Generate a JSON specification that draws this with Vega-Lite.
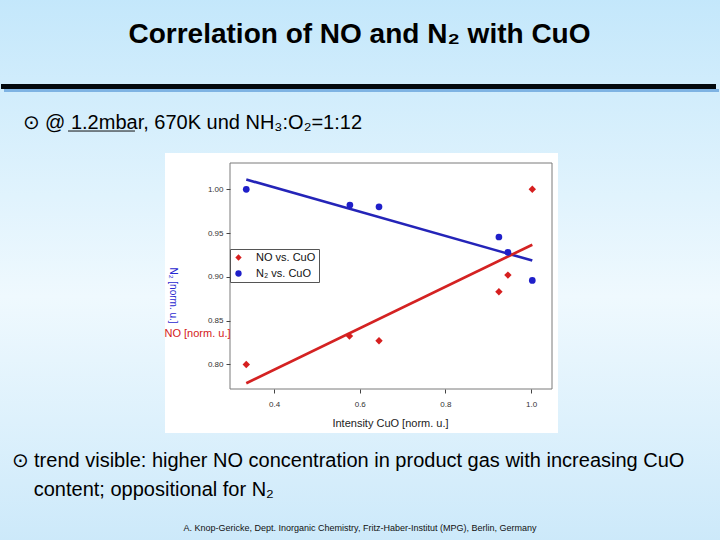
{
  "$schema": "https://vega.github.io/schema/vega-lite/v6.json",
  "width": 322,
  "height": 226,
  "autosize": {"type": "none"},
  "padding": {"left": 230, "top": 163, "right": 168, "bottom": 151},
  "background": "#d8effc",
  "config": {
    "font": "Liberation Sans",
    "view": {"stroke": null},
    "axis": {"zindex": 1, "grid": false}
  },
  "data": {
    "values": [
      {"series": "N₂ vs. CuO", "x": 0.335, "y": 1.000},
      {"series": "N₂ vs. CuO", "x": 0.577, "y": 0.982},
      {"series": "N₂ vs. CuO", "x": 0.645, "y": 0.980},
      {"series": "N₂ vs. CuO", "x": 0.925, "y": 0.9455},
      {"series": "N₂ vs. CuO", "x": 0.946, "y": 0.928},
      {"series": "N₂ vs. CuO", "x": 1.003, "y": 0.896},
      {"series": "NO vs. CuO", "x": 0.335, "y": 0.800},
      {"series": "NO vs. CuO", "x": 0.576, "y": 0.8324},
      {"series": "NO vs. CuO", "x": 0.645, "y": 0.827},
      {"series": "NO vs. CuO", "x": 0.925, "y": 0.883},
      {"series": "NO vs. CuO", "x": 0.946, "y": 0.902},
      {"series": "NO vs. CuO", "x": 1.003, "y": 1.000}
    ]
  },
  "resolve": {"axis": {"x": "independent", "y": "independent"}},
  "layer": [
    {
      "data": {"values": [{}]},
      "mark": {"type": "rect", "clip": false, "fill": {"gradient": "linear", "x1": 0, "y1": 0, "x2": 0, "y2": 1, "stops": [{"offset": 0, "color": "#c3e7fb"}, {"offset": 0.55, "color": "#eff9fe"}, {"offset": 1, "color": "#cce9fa"}]}},
      "encoding": {
        "x": {"datum": -0.245, "type": "quantitative", "scale": {"domain": [0.297, 1.049], "nice": false, "zero": false}, "axis": null},
        "x2": {"datum": 1.45},
        "y": {"datum": 1.222, "type": "quantitative", "scale": {"domain": [0.772, 1.030], "nice": false, "zero": false}, "axis": null},
        "y2": {"datum": 0.595}
      }
    },
    {
      "data": {"values": [{}]},
      "mark": {"type": "rule", "clip": false, "color": "#7eb3e3", "strokeWidth": 3},
      "encoding": {
        "x": {"datum": -0.2308, "type": "quantitative", "scale": {"domain": [0.297, 1.049], "nice": false, "zero": false}, "axis": null},
        "x2": {"datum": 1.439},
        "y": {"datum": 1.1128, "type": "quantitative", "scale": {"domain": [0.772, 1.030], "nice": false, "zero": false}, "axis": null}
      }
    },
    {
      "data": {"values": [{}]},
      "mark": {"type": "rule", "clip": false, "color": "#03090d", "strokeWidth": 5},
      "encoding": {
        "x": {"datum": -0.2378, "type": "quantitative", "scale": {"domain": [0.297, 1.049], "nice": false, "zero": false}, "axis": null},
        "x2": {"datum": 1.432},
        "y": {"datum": 1.1173, "type": "quantitative", "scale": {"domain": [0.772, 1.030], "nice": false, "zero": false}, "axis": null}
      }
    },
    {
      "data": {"values": [{}]},
      "mark": {"type": "rule", "clip": false, "color": "#111111", "strokeWidth": 1},
      "encoding": {
        "x": {"datum": -0.0813, "type": "quantitative", "scale": {"domain": [0.297, 1.049], "nice": false, "zero": false}, "axis": null},
        "x2": {"datum": 0.0751},
        "y": {"datum": 1.0665, "type": "quantitative", "scale": {"domain": [0.772, 1.030], "nice": false, "zero": false}, "axis": null}
      }
    },
    {
      "data": {"values": [{}]},
      "mark": {"type": "rect", "clip": false, "fill": "#ffffff"},
      "encoding": {
        "x": {"datum": 0.1452, "type": "quantitative", "scale": {"domain": [0.297, 1.049], "nice": false, "zero": false}, "axis": null},
        "x2": {"datum": 1.063},
        "y": {"datum": 1.0414, "type": "quantitative", "scale": {"domain": [0.772, 1.030], "nice": false, "zero": false}, "axis": null},
        "y2": {"datum": 0.7218}
      }
    },
    {
      "data": {"values": [{}]},
      "mark": {"type": "rect", "clip": false, "fill": "#ffffff", "fillOpacity": 0, "stroke": "#7a7a7a", "strokeWidth": 1},
      "encoding": {
        "x": {"datum": 0.297, "type": "quantitative", "scale": {"domain": [0.297, 1.049], "nice": false, "zero": false}, "axis": null},
        "x2": {"datum": 1.049},
        "y": {"datum": 0.772, "type": "quantitative", "scale": {"domain": [0.772, 1.030], "nice": false, "zero": false}, "axis": null},
        "y2": {"datum": 1.030}
      }
    },
    {
      "transform": [{"filter": "datum.series === 'N₂ vs. CuO'"}, {"regression": "y", "on": "x"}],
      "mark": {"type": "line", "color": "#2424b8", "strokeWidth": 2.6},
      "encoding": {
        "x": {"field": "x", "type": "quantitative", "scale": {"domain": [0.297, 1.049], "nice": false, "zero": false},
          "axis": {"zindex": 1, "orient": "top", "labels": false, "ticks": false, "domain": false, "title": "⊙ @ 1.2mbar, 670K und NH₃:O₂=1:12", "titleX": -208, "titleY": -35, "titleAlign": "left", "titleBaseline": "alphabetic", "titleFontSize": 20, "titleFontWeight": "normal", "titleColor": "#000000"}},
        "y": {"field": "y", "type": "quantitative", "scale": {"domain": [0.772, 1.030], "nice": false, "zero": false},
          "axis": {"zindex": 1, "orient": "right", "labels": false, "ticks": false, "domain": false, "title": "A. Knop-Gericke, Dept. Inorganic Chemistry, Fritz-Haber-Institut (MPG), Berlin, Germany", "titleAngle": 0, "titleX": -192.5, "titleY": 367, "titleAlign": "center", "titleBaseline": "alphabetic", "titleFontSize": 9, "titleFontWeight": "normal", "titleColor": "#111111"}}
      }
    },
    {
      "transform": [{"filter": "datum.series === 'NO vs. CuO'"}, {"regression": "y", "on": "x"}],
      "mark": {"type": "line", "color": "#d42222", "strokeWidth": 2.6},
      "encoding": {
        "x": {"field": "x", "type": "quantitative", "scale": {"domain": [0.297, 1.049], "nice": false, "zero": false},
          "axis": {"zindex": 1, "orient": "bottom", "labels": false, "ticks": false, "domain": false, "title": ["⊙ trend visible: higher NO concentration in product gas with increasing CuO", "\u200b\u00a0\u00a0\u00a0\u00a0content; oppositional for N₂"], "titleX": -219, "titleY": 77, "titleAlign": "left", "titleBaseline": "alphabetic", "titleFontSize": 20, "titleFontWeight": "normal", "titleLineHeight": 29, "titleColor": "#000000"}},
        "y": {"field": "y", "type": "quantitative", "scale": {"domain": [0.772, 1.030], "nice": false, "zero": false}, "axis": null}
      }
    },
    {
      "transform": [{"filter": "datum.series === 'N₂ vs. CuO'"}],
      "mark": {"type": "point", "filled": true, "opacity": 1},
      "encoding": {
        "x": {"field": "x", "type": "quantitative", "scale": {"domain": [0.297, 1.049], "nice": false, "zero": false},
          "axis": {"zindex": 1, "orient": "bottom", "values": [0.4, 0.6, 0.8, 1.0], "format": ".1f", "domain": false, "tickSize": 4, "tickColor": "#444444", "labelFontSize": 8, "labelColor": "#333333", "labelPadding": 7, "title": "Intensity CuO [norm. u.]", "titleX": 160, "titleY": 37, "titleAlign": "center", "titleBaseline": "alphabetic", "titleFontSize": 11, "titleFontWeight": "normal", "titleColor": "#222222"}},
        "y": {"field": "y", "type": "quantitative", "scale": {"domain": [0.772, 1.030], "nice": false, "zero": false},
          "axis": {"zindex": 1, "orient": "left", "values": [0.8, 0.85, 0.9, 0.95, 1.0], "format": ".2f", "domain": false, "tickSize": 4, "tickColor": "#444444", "labelFontSize": 8, "labelColor": "#333333", "labelPadding": 3, "title": "N₂ [norm. u.]", "titleAngle": 90, "titleX": -58, "titleY": 132, "titleAlign": "center", "titleBaseline": "middle", "titleFontSize": 10, "titleFontWeight": "normal", "titleColor": "#2a2ad0"}},
        "color": {"field": "series", "type": "nominal", "scale": {"domain": ["NO vs. CuO", "N₂ vs. CuO"], "range": ["#d61f1f", "#1f1fc9"]},
          "legend": {"orient": "none", "legendX": 0, "legendY": 86, "title": null, "fillColor": "#ffffff", "strokeColor": "#555555", "padding": 3, "rowPadding": 4, "labelFontSize": 11, "labelColor": "#111111", "labelOffset": 12, "symbolSize": 40, "zindex": 2}},
        "shape": {"field": "series", "type": "nominal", "scale": {"domain": ["NO vs. CuO", "N₂ vs. CuO"], "range": ["diamond", "circle"]}},
        "size": {"value": 45}
      }
    },
    {
      "transform": [{"filter": "datum.series === 'NO vs. CuO'"}],
      "mark": {"type": "point", "filled": true, "opacity": 1},
      "encoding": {
        "x": {"field": "x", "type": "quantitative", "scale": {"domain": [0.297, 1.049], "nice": false, "zero": false},
          "axis": {"zindex": 1, "orient": "top", "labels": false, "ticks": false, "domain": false, "title": "Correlation of NO and N₂ with CuO", "titleX": 129, "titleY": -121, "titleAlign": "center", "titleBaseline": "alphabetic", "titleFontSize": 28, "titleFontWeight": "bold", "titleColor": "#000000"}},
        "y": {"field": "y", "type": "quantitative", "scale": {"domain": [0.772, 1.030], "nice": false, "zero": false},
          "axis": {"zindex": 1, "orient": "left", "labels": false, "ticks": false, "domain": false, "title": "NO [norm. u.]", "titleAngle": 0, "titleX": -66, "titleY": 170, "titleAlign": "left", "titleBaseline": "middle", "titleFontSize": 11, "titleFontWeight": "normal", "titleColor": "#d42020"}},
        "color": {"field": "series", "type": "nominal", "scale": {"domain": ["NO vs. CuO", "N₂ vs. CuO"], "range": ["#d61f1f", "#1f1fc9"]}},
        "shape": {"field": "series", "type": "nominal", "scale": {"domain": ["NO vs. CuO", "N₂ vs. CuO"], "range": ["diamond", "circle"]}},
        "size": {"value": 55}
      }
    }
  ]
}
